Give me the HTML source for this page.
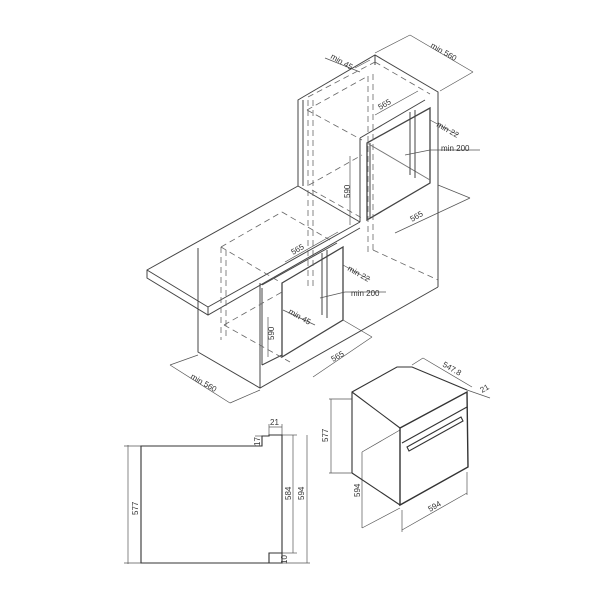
<!DOCTYPE html>
<html><head><style>
html,body{margin:0;padding:0;background:#fff}
svg{display:block}
text{font-family:"Liberation Sans",sans-serif;font-size:8px;fill:#333}
</style></head><body>
<svg width="600" height="600" viewBox="0 0 600 600">
<g stroke="#444" stroke-width="1" fill="none">
<polyline points="298,186 298,100 303,97 375,55 438,92 438,287"/>
<line x1="303" y1="100" x2="303" y2="186"/>
<line x1="375" y1="55" x2="375" y2="65"/>
<polyline points="298,186 147,270 147,278 208,315 360,228"/>
<line x1="147" y1="270" x2="208" y2="307"/>
<line x1="208" y1="307" x2="360" y2="222"/>
<line x1="208" y1="307" x2="208" y2="315"/>
<line x1="298" y1="186" x2="360" y2="222"/>
<polyline points="198,248 198,352 260,388 438,287"/>
<line x1="260" y1="283" x2="260" y2="388"/>
<line x1="198" y1="313" x2="198" y2="320"/>
<polygon points="367,143 430,108 430,183 367,220" stroke-width="1.3"/>
<line x1="370" y1="143" x2="370" y2="218"/>
<line x1="360" y1="138" x2="360" y2="222"/>
<line x1="360" y1="138" x2="425" y2="100"/>
<line x1="367" y1="143" x2="430" y2="180" stroke="#777"/>
<line x1="410" y1="112" x2="410" y2="175"/>
<line x1="415" y1="110" x2="415" y2="178"/>
<polygon points="282,283 343,247 343,320 282,357" stroke-width="1.3"/>
<line x1="262" y1="285" x2="337" y2="243"/>
<line x1="322" y1="253" x2="322" y2="315"/>
<line x1="327" y1="250" x2="327" y2="318"/>
<line x1="262" y1="288" x2="262" y2="365"/>
<line x1="262" y1="365" x2="282" y2="355"/>
</g>
<g stroke="#666" stroke-width="0.8" fill="none" stroke-dasharray="6,4">
<line x1="308" y1="97" x2="375" y2="62"/>
<line x1="375" y1="62" x2="430" y2="94"/>
<line x1="307" y1="110" x2="362" y2="140"/>
<line x1="307" y1="110" x2="368" y2="76"/>
<line x1="368" y1="76" x2="368" y2="253"/>
<line x1="373" y1="74" x2="373" y2="250"/>
<line x1="309" y1="185" x2="362" y2="155"/>
<line x1="312" y1="190" x2="362" y2="218"/>
<line x1="373" y1="250" x2="438" y2="280"/>
<line x1="308" y1="100" x2="308" y2="290"/>
<line x1="313" y1="100" x2="313" y2="290"/>
<line x1="221" y1="247" x2="282" y2="212"/>
<line x1="221" y1="247" x2="221" y2="340"/>
<line x1="226" y1="250" x2="226" y2="340"/>
<line x1="221" y1="247" x2="280" y2="282"/>
<line x1="224" y1="325" x2="282" y2="292"/>
<line x1="224" y1="325" x2="290" y2="362"/>
<line x1="282" y1="212" x2="330" y2="240"/>
</g>
<g stroke="#555" stroke-width="0.7" fill="none">
<line x1="370" y1="60" x2="355" y2="68"/><line x1="325" y1="58" x2="360" y2="72"/>
<line x1="375" y1="53" x2="410" y2="35"/><line x1="410" y1="35" x2="473" y2="72"/><line x1="473" y1="72" x2="440" y2="91"/>
<line x1="375" y1="115" x2="418" y2="91"/>
<line x1="430" y1="120" x2="458" y2="135"/>
<line x1="405" y1="155" x2="430" y2="150"/><line x1="430" y1="150" x2="480" y2="150"/>
<line x1="350" y1="156" x2="350" y2="225"/>
<line x1="438" y1="185" x2="470" y2="198"/><line x1="395" y1="233" x2="470" y2="198"/>
<line x1="285" y1="262" x2="338" y2="232"/>
<line x1="343" y1="265" x2="370" y2="280"/>
<line x1="320" y1="298" x2="345" y2="292"/><line x1="345" y1="292" x2="386" y2="292"/>
<line x1="268" y1="317" x2="268" y2="357"/>
<line x1="283" y1="310" x2="315" y2="325"/>
<line x1="343" y1="320" x2="372" y2="337"/><line x1="313" y1="377" x2="372" y2="337"/>
<line x1="198" y1="355" x2="170" y2="365"/><line x1="170" y1="365" x2="230" y2="403"/><line x1="230" y1="403" x2="260" y2="390"/>
<line x1="128" y1="445" x2="128" y2="564"/><line x1="124" y1="446" x2="141" y2="446"/><line x1="124" y1="563" x2="141" y2="563"/>
<line x1="269" y1="427" x2="282" y2="427"/><line x1="269" y1="424" x2="269" y2="436"/><line x1="282" y1="424" x2="282" y2="435"/>
<line x1="255" y1="436" x2="262" y2="436"/>
<line x1="293" y1="435" x2="293" y2="553"/><line x1="282" y1="435" x2="297" y2="435"/><line x1="282" y1="553" x2="297" y2="553"/>
<line x1="307" y1="435" x2="307" y2="563"/><line x1="282" y1="563" x2="310" y2="563"/>
<line x1="331" y1="399" x2="331" y2="473"/><line x1="329" y1="399" x2="352" y2="399"/><line x1="329" y1="473" x2="352" y2="473"/>
<line x1="362" y1="452" x2="362" y2="528"/><line x1="362" y1="452" x2="400" y2="430"/><line x1="362" y1="528" x2="400" y2="508"/>
<line x1="402" y1="530" x2="467" y2="493"/><line x1="402" y1="510" x2="402" y2="532"/><line x1="467" y1="472" x2="467" y2="495"/>
<line x1="412" y1="365" x2="423" y2="358"/><line x1="423" y1="358" x2="472" y2="387"/>
<line x1="467" y1="390" x2="490" y2="398"/>
</g>
<g stroke="#333" stroke-width="1.1" fill="none">
<polygon points="141,446 262,446 262,436 269,436 269,435 282,435 282,563 141,563"/>
<polyline points="269,563 269,553 282,553"/>
<polyline points="352,473 352,392 397,367 412,367 467,390"/>
<polygon points="400,428 467,392 468,467 400,505" stroke-width="1.4"/>
<line x1="352" y1="392" x2="400" y2="428"/>
<line x1="352" y1="473" x2="400" y2="505"/>
<line x1="402" y1="443" x2="467" y2="407"/>
<polygon points="407,447 461,417 463,421 409,451"/>
</g>
<g>
<text transform="translate(330,58) rotate(30)">min 45</text>
<text transform="translate(430,47) rotate(30)">min 560</text>
<text transform="translate(380,110) rotate(-30)">565</text>
<text transform="translate(436,126) rotate(30)">min 22</text>
<text x="441" y="151">min 200</text>
<text transform="translate(350,198) rotate(-90)">590</text>
<text transform="translate(412,222) rotate(-30)">565</text>
<text transform="translate(293,255) rotate(-30)">565</text>
<text transform="translate(347,270) rotate(30)">min 22</text>
<text x="351" y="296">min 200</text>
<text transform="translate(288,313) rotate(30)">min 45</text>
<text transform="translate(274,340) rotate(-90)">590</text>
<text transform="translate(333,362) rotate(-30)">565</text>
<text transform="translate(190,378) rotate(30)">min 560</text>
<text transform="translate(442,366) rotate(30)">547.8</text>
<text transform="translate(482,393) rotate(-30)">21</text>
<text transform="translate(328,442) rotate(-90)">577</text>
<text transform="translate(360,497) rotate(-90)">594</text>
<text transform="translate(430,512) rotate(-30)">594</text>
<text transform="translate(138,515) rotate(-90)">577</text>
<text x="270" y="425">21</text>
<text transform="translate(260,446) rotate(-90)">17</text>
<text transform="translate(291,500) rotate(-90)">584</text>
<text transform="translate(304,500) rotate(-90)">594</text>
<text transform="translate(287,564) rotate(-90)">10</text>
</g>
</svg>
</body></html>
